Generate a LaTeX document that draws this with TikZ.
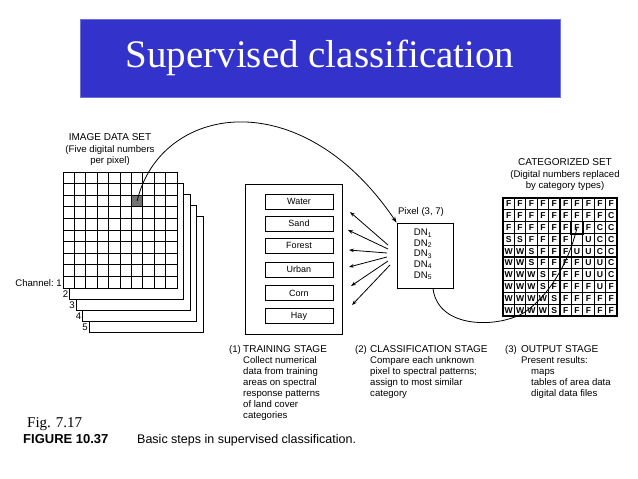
\documentclass[tikz,border=0pt]{standalone}
\usepackage{fontspec}
\setmainfont{Liberation Sans}
\newfontfamily\seriffam{Liberation Serif}
\usetikzlibrary{arrows.meta,calc}
\definecolor{titleblue}{HTML}{3333CC}
\begin{document}
\begin{tikzpicture}[x=1pt,y=-1pt,
  ln/.style={line width=0.8pt},
  lbl/.style={inner sep=0pt, font=\fontsize{9.6}{11}\selectfont},
  caplbl/.style={inner sep=0pt, align=center, font=\fontsize{9.6}{11.5}\selectfont},
  catbox/.style={draw, line width=0.9pt, minimum width=68pt, minimum height=15pt, inner sep=0pt, font=\fontsize{9}{9}\selectfont},
  cell/.style={inner sep=0pt, minimum width=11.4pt, minimum height=11.8pt, font=\bfseries\fontsize{8.6}{8.6}\selectfont},
  fanarrow/.style={line width=0.8pt, -{Stealth[length=5pt,width=3.6pt]}},
  stage/.style={inner sep=0pt, anchor=north west, align=left, font=\fontsize{9.6}{11}\selectfont},
]
\useasboundingbox (0,0) rectangle (638,479);
\fill[white] (0,0) rectangle (638,479);

% title
\node[fill=titleblue, draw=titleblue!70!white, minimum width=480pt, minimum height=78pt, inner sep=0pt,
      text=white, font=\seriffam\fontsize{39}{39}\selectfont] (title) at (320,58) {Supervised classification};

% image data set
\node[caplbl] (imglbl) at (110,150) {\fontsize{10}{11.5}\selectfont IMAGE DATA SET\\(Five digital numbers\\per pixel)};
\foreach \k in {4,3,2,1} {
  \draw[ln, fill=white] ({63+6.5*\k},{172+11*\k}) rectangle ++(114,116);
}
\draw[ln, fill=white] (63,172) rectangle (177,288);
\node[fill=black!55, inner sep=0pt, minimum width=11.4pt, minimum height=11.6pt] (imgpix) at (137.1,201) {};
\foreach \i in {1,...,9} {
  \draw[ln] ({63+11.4*\i},172) -- ({63+11.4*\i},288);
  \draw[ln] (63,{172+11.6*\i}) -- (177,{172+11.6*\i});
}
\node[lbl, anchor=east] (ch1) at (62,283) {Channel:\ 1};
\node[lbl, anchor=east] (ch2) at (68.5,294) {2};
\node[lbl, anchor=east] (ch3) at (75,305) {3};
\node[lbl, anchor=east] (ch4) at (81.5,316) {4};
\node[lbl, anchor=east] (ch5) at (88,327) {5};

% training box
\node[draw, line width=0.9pt, minimum width=97pt, minimum height=150pt, inner sep=0pt] (trainbox) at (293.5,259) {};
\node[catbox] (water) at (299,201.5) {Water};
\node[catbox] (sand) at (299,223.5) {Sand};
\node[catbox] (forest) at (299,245.5) {Forest};
\node[catbox] (urban) at (299,269.5) {Urban};
\node[catbox] (corn) at (299,293) {Corn};
\node[catbox] (hay) at (299,316) {Hay};

% pixel box
\node[draw, line width=0.9pt, minimum width=56pt, minimum height=65pt, inner sep=0pt] (pix) at (425,255.5) {};
\node[lbl] (pixlbl) at (421,212.5) {Pixel (3, 7)};
\node[lbl] (dn1) at (423,233) {DN\textsubscript{1}};
\node[lbl] (dn2) at (423,243.5) {DN\textsubscript{2}};
\node[lbl] (dn3) at (423,254) {DN\textsubscript{3}};
\node[lbl] (dn4) at (423,264.5) {DN\textsubscript{4}};
\node[lbl] (dn5) at (423,275.5) {DN\textsubscript{5}};

% fan arrows
\coordinate (s1) at (388,245); \coordinate (t1) at (350,212);
\coordinate (s2) at (388,249); \coordinate (t2) at (348,230);
\coordinate (s3) at (387,253); \coordinate (t3) at (349,250);
\coordinate (s4) at (387,257); \coordinate (t4) at (349,267);
\coordinate (s5) at (388,261); \coordinate (t5) at (351,286);
\coordinate (s6) at (390,265); \coordinate (t6) at (352,305);
\foreach \i in {1,...,6} { \draw[fanarrow] (s\i) -- (t\i); }

% main arc
\draw[line width=0.8pt, -{Stealth[length=6pt,width=4.2pt]}] (imgpix.center) .. controls (160,105) and (300,80) .. (pix.north west);

% categorized set
\node[caplbl] (catlbl) at (565,175) {\fontsize{10}{10.5}\selectfont CATEGORIZED SET\\(Digital numbers replaced\\by category types)};
\foreach [count=\r] \row in {{F,F,F,F,F,F,F,F,F,F},{F,F,F,F,F,F,F,F,F,C},{F,F,F,F,F,F,F,F,C,C},{S,S,F,F,F,F,{},U,C,C},{W,W,S,F,F,F,U,U,C,C},{W,W,S,F,F,F,F,U,U,C},{W,W,W,S,F,F,F,U,U,C},{W,W,W,S,F,F,F,F,U,F},{W,W,W,W,S,F,F,F,F,F},{W,W,W,W,S,F,F,F,F,F}} {
  \foreach [count=\c] \l in \row {
    \node[cell] (c\r-\c) at ({503+11.4*(\c-0.5)},{198+11.8*(\r-0.5)}) {\l};
  }
}
\draw[line width=1.1pt] (503,198) rectangle (617,316);
\foreach \i in {1,...,9} {
  \draw[line width=1.1pt] ({503+11.4*\i},198) -- ({503+11.4*\i},316);
  \draw[line width=1.1pt] (503,{198+11.8*\i}) -- (617,{198+11.8*\i});
}
\draw[line width=1.8pt] (c3-7.north west) rectangle (c3-7.south east);

% output curve
\draw[line width=0.8pt] ($(pix.south)+(8,0)$) .. controls (438,330) and (500,328) .. (525,312) .. controls (548,296) and (568,265) .. (c3-7.center);

% stage texts
\node[stage] (n1) at (229,345) {(1)};
\node[stage] (st1) at (243,345) {\fontsize{10}{11}\selectfont TRAINING STAGE\\Collect numerical\\data from training\\areas on spectral\\response patterns\\of land cover\\categories};
\node[stage] (n2) at (355,345) {(2)};
\node[stage] (st2) at (370,345) {\fontsize{10}{11}\selectfont CLASSIFICATION STAGE\\Compare each unknown\\pixel to spectral patterns;\\assign to most similar\\category};
\node[stage] (n3) at (505,345) {(3)};
\node[stage] (st3) at (521,345) {\fontsize{10}{11}\selectfont OUTPUT STAGE\\Present results:\\\hspace*{10pt}maps\\\hspace*{10pt}tables of area data\\\hspace*{10pt}digital data files};

% captions
\node[inner sep=0pt, anchor=base west, font=\seriffam\fontsize{15}{15}\selectfont] (fig) at (27,427) {Fig. 7.17};
\node[inner sep=0pt, anchor=base west, font=\bfseries\fontsize{13}{13}\selectfont] (figure) at (23,443.5) {FIGURE 10.37};
\node[inner sep=0pt, anchor=base west, font=\fontsize{12.5}{12.5}\selectfont] (figcap) at (137,443.5) {Basic steps in supervised classification.};
\end{tikzpicture}
\end{document}
